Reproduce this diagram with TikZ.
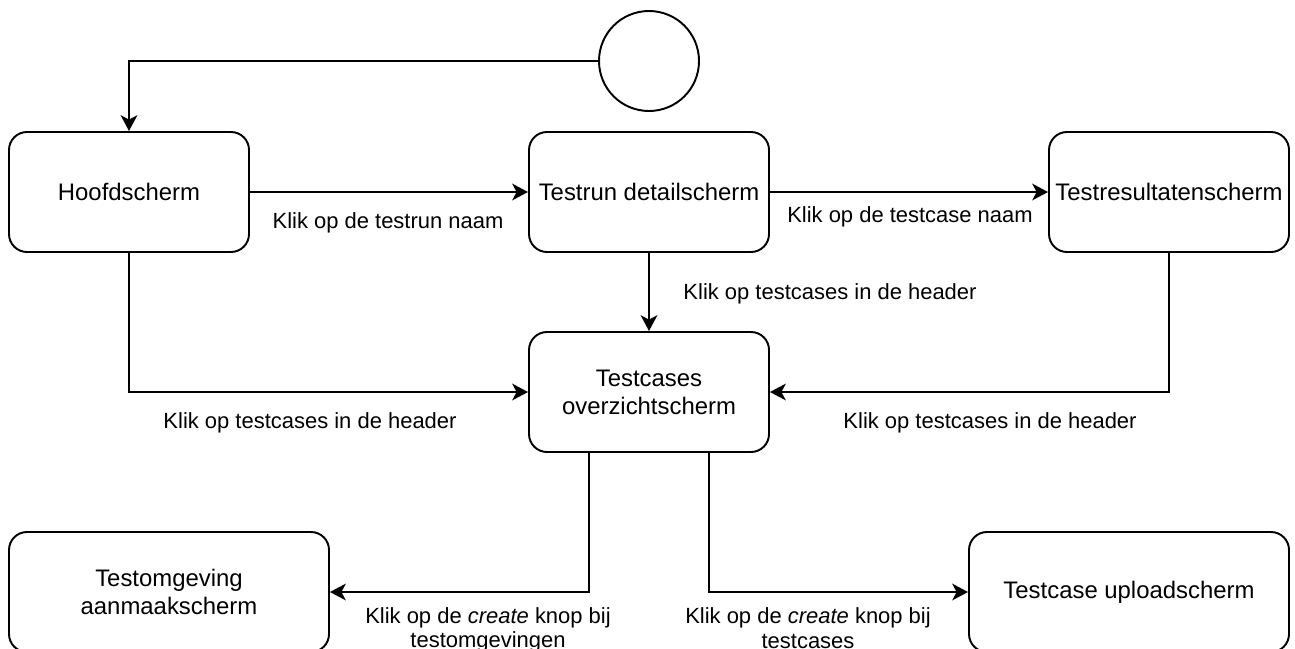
\documentclass[tikz,border=0pt]{standalone}
\usepackage{fontspec}
\setmainfont{Liberation Sans}
\usetikzlibrary{arrows.meta, positioning}

\begin{document}
\begin{tikzpicture}[
    screen/.style={rectangle, rounded corners=0.36cm, draw, line width=1.1pt, minimum width=4.8cm, minimum height=2.4cm, align=center, font=\fontsize{13.6}{16}\selectfont, inner sep=1pt},
    wide/.style={minimum width=6.4cm},
    start/.style={circle, draw, line width=1.1pt, minimum size=2cm},
    lbl/.style={align=center, font=\fontsize{12.5}{14}\selectfont, inner sep=0pt},
    arr/.style={-{Stealth[length=9pt, width=9.5pt, inset=2.5pt]}, line width=1.1pt}
]
\useasboundingbox (0,0) rectangle (25.9,-12.96);

% Start
\node[start] (begin) at (12.98,-1.22) {};

% Screens
\node[screen] (hoofd) at (2.58,-3.84) {Hoofdscherm};
\node[screen] (detail) at (12.98,-3.84) {Testrun detailscherm};
\node[screen] (result) at (23.38,-3.84) {Testresultatenscherm};
\node[screen] (overview) at (12.98,-7.84) {Testcases\\overzichtscherm};
\node[screen, wide] (create) at (3.38,-11.84) {Testomgeving\\aanmaakscherm};
\node[screen, wide] (upload) at (22.58,-11.84) {Testcase uploadscherm};

% Arrows
\draw[arr] (begin.west) -| (hoofd.north);
\draw[arr] (hoofd) -- (detail);
\draw[arr] (detail) -- (result);
\draw[arr] (detail) -- (overview);
\draw[arr] (hoofd.south) |- (overview.west);
\draw[arr] (result.south) |- (overview.east);
\draw[arr] ([xshift=-1.2cm]overview.south) |- (create.east);
\draw[arr] ([xshift=1.2cm]overview.south) |- (upload.west);

% Labels
\node[lbl] (l1) at (7.76,-4.46) {Klik op de testrun naam};
\node[lbl] (l2) at (18.2,-4.34) {Klik op de testcase naam};
\node[lbl] (l3) at (16.6,-5.88) {Klik op testcases in de header};
\node[lbl] (l4) at (6.2,-8.46) {Klik op testcases in de header};
\node[lbl] (l5) at (19.8,-8.46) {Klik op testcases in de header};
\node[lbl] (l6) at (9.76,-12.6) {Klik op de \textit{create} knop bij\\testomgevingen};
\node[lbl] (l7) at (16.16,-12.56) {Klik op de \textit{create} knop bij\\testcases};

\end{tikzpicture}
\end{document}
